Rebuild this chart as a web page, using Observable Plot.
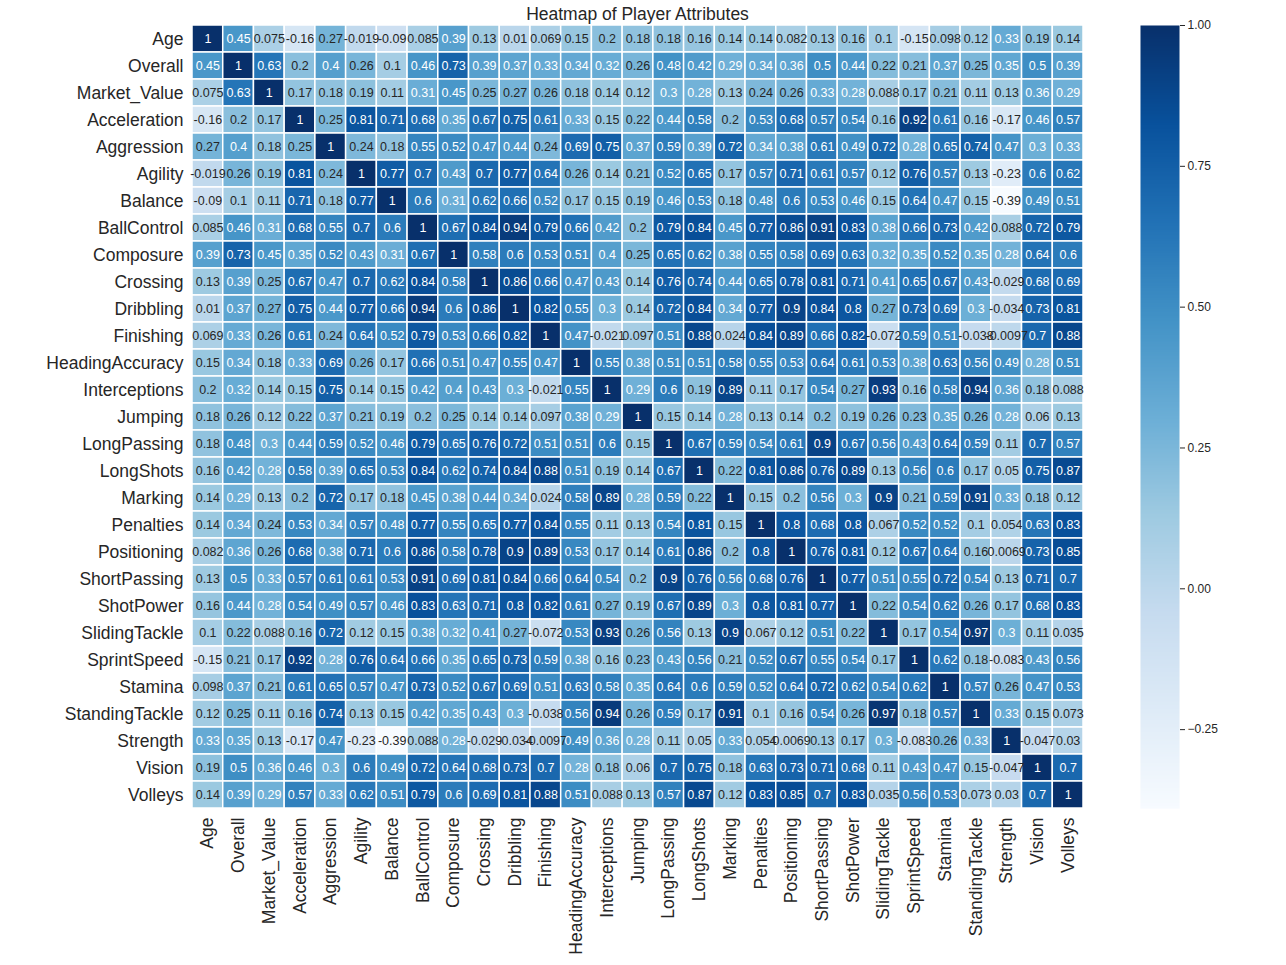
<!DOCTYPE html>
<html>
<head>
<meta charset="utf-8">
<script src="https://cdn.jsdelivr.net/npm/d3@7"></script>
<script src="https://cdn.jsdelivr.net/npm/@observablehq/plot@0.6"></script>
<style>
  html, body { margin: 0; padding: 0; background: #fff; }
  #wrap { position: relative; width: 1286px; height: 965px; font-family: "Liberation Sans", Arial, sans-serif; color: #262626; }
  #title { position: absolute; left: 0; width: 1275px; top: 4px; text-align: center; font-size: 17.5px; line-height: 20px; }
  #cbar { position: absolute; left: 1140px; top: 0; }
  #main { position: absolute; left: 0; top: 0; }
</style>
</head>
<body>
<div id="wrap">
  <div id="main"></div>
  <div id="cbar"></div>
  <div id="title">Heatmap of Player Attributes</div>
</div>
<script>
const labels = ["Age","Overall","Market_Value","Acceleration","Aggression","Agility","Balance","BallControl","Composure","Crossing","Dribbling","Finishing","HeadingAccuracy","Interceptions","Jumping","LongPassing","LongShots","Marking","Penalties","Positioning","ShortPassing","ShotPower","SlidingTackle","SprintSpeed","Stamina","StandingTackle","Strength","Vision","Volleys"];

const corr = [
  [1,0.45,0.075,-0.16,0.27,-0.019,-0.09,0.085,0.39,0.13,0.01,0.069,0.15,0.2,0.18,0.18,0.16,0.14,0.14,0.082,0.13,0.16,0.1,-0.15,0.098,0.12,0.33,0.19,0.14],
  [0.45,1,0.63,0.2,0.4,0.26,0.1,0.46,0.73,0.39,0.37,0.33,0.34,0.32,0.26,0.48,0.42,0.29,0.34,0.36,0.5,0.44,0.22,0.21,0.37,0.25,0.35,0.5,0.39],
  [0.075,0.63,1,0.17,0.18,0.19,0.11,0.31,0.45,0.25,0.27,0.26,0.18,0.14,0.12,0.3,0.28,0.13,0.24,0.26,0.33,0.28,0.088,0.17,0.21,0.11,0.13,0.36,0.29],
  [-0.16,0.2,0.17,1,0.25,0.81,0.71,0.68,0.35,0.67,0.75,0.61,0.33,0.15,0.22,0.44,0.58,0.2,0.53,0.68,0.57,0.54,0.16,0.92,0.61,0.16,-0.17,0.46,0.57],
  [0.27,0.4,0.18,0.25,1,0.24,0.18,0.55,0.52,0.47,0.44,0.24,0.69,0.75,0.37,0.59,0.39,0.72,0.34,0.38,0.61,0.49,0.72,0.28,0.65,0.74,0.47,0.3,0.33],
  [-0.019,0.26,0.19,0.81,0.24,1,0.77,0.7,0.43,0.7,0.77,0.64,0.26,0.14,0.21,0.52,0.65,0.17,0.57,0.71,0.61,0.57,0.12,0.76,0.57,0.13,-0.23,0.6,0.62],
  [-0.09,0.1,0.11,0.71,0.18,0.77,1,0.6,0.31,0.62,0.66,0.52,0.17,0.15,0.19,0.46,0.53,0.18,0.48,0.6,0.53,0.46,0.15,0.64,0.47,0.15,-0.39,0.49,0.51],
  [0.085,0.46,0.31,0.68,0.55,0.7,0.6,1,0.67,0.84,0.94,0.79,0.66,0.42,0.2,0.79,0.84,0.45,0.77,0.86,0.91,0.83,0.38,0.66,0.73,0.42,0.088,0.72,0.79],
  [0.39,0.73,0.45,0.35,0.52,0.43,0.31,0.67,1,0.58,0.6,0.53,0.51,0.4,0.25,0.65,0.62,0.38,0.55,0.58,0.69,0.63,0.32,0.35,0.52,0.35,0.28,0.64,0.6],
  [0.13,0.39,0.25,0.67,0.47,0.7,0.62,0.84,0.58,1,0.86,0.66,0.47,0.43,0.14,0.76,0.74,0.44,0.65,0.78,0.81,0.71,0.41,0.65,0.67,0.43,-0.029,0.68,0.69],
  [0.01,0.37,0.27,0.75,0.44,0.77,0.66,0.94,0.6,0.86,1,0.82,0.55,0.3,0.14,0.72,0.84,0.34,0.77,0.9,0.84,0.8,0.27,0.73,0.69,0.3,-0.034,0.73,0.81],
  [0.069,0.33,0.26,0.61,0.24,0.64,0.52,0.79,0.53,0.66,0.82,1,0.47,-0.021,0.097,0.51,0.88,0.024,0.84,0.89,0.66,0.82,-0.072,0.59,0.51,-0.038,-0.0097,0.7,0.88],
  [0.15,0.34,0.18,0.33,0.69,0.26,0.17,0.66,0.51,0.47,0.55,0.47,1,0.55,0.38,0.51,0.51,0.58,0.55,0.53,0.64,0.61,0.53,0.38,0.63,0.56,0.49,0.28,0.51],
  [0.2,0.32,0.14,0.15,0.75,0.14,0.15,0.42,0.4,0.43,0.3,-0.021,0.55,1,0.29,0.6,0.19,0.89,0.11,0.17,0.54,0.27,0.93,0.16,0.58,0.94,0.36,0.18,0.088],
  [0.18,0.26,0.12,0.22,0.37,0.21,0.19,0.2,0.25,0.14,0.14,0.097,0.38,0.29,1,0.15,0.14,0.28,0.13,0.14,0.2,0.19,0.26,0.23,0.35,0.26,0.28,0.06,0.13],
  [0.18,0.48,0.3,0.44,0.59,0.52,0.46,0.79,0.65,0.76,0.72,0.51,0.51,0.6,0.15,1,0.67,0.59,0.54,0.61,0.9,0.67,0.56,0.43,0.64,0.59,0.11,0.7,0.57],
  [0.16,0.42,0.28,0.58,0.39,0.65,0.53,0.84,0.62,0.74,0.84,0.88,0.51,0.19,0.14,0.67,1,0.22,0.81,0.86,0.76,0.89,0.13,0.56,0.6,0.17,0.05,0.75,0.87],
  [0.14,0.29,0.13,0.2,0.72,0.17,0.18,0.45,0.38,0.44,0.34,0.024,0.58,0.89,0.28,0.59,0.22,1,0.15,0.2,0.56,0.3,0.9,0.21,0.59,0.91,0.33,0.18,0.12],
  [0.14,0.34,0.24,0.53,0.34,0.57,0.48,0.77,0.55,0.65,0.77,0.84,0.55,0.11,0.13,0.54,0.81,0.15,1,0.8,0.68,0.8,0.067,0.52,0.52,0.1,0.054,0.63,0.83],
  [0.082,0.36,0.26,0.68,0.38,0.71,0.6,0.86,0.58,0.78,0.9,0.89,0.53,0.17,0.14,0.61,0.86,0.2,0.8,1,0.76,0.81,0.12,0.67,0.64,0.16,0.0069,0.73,0.85],
  [0.13,0.5,0.33,0.57,0.61,0.61,0.53,0.91,0.69,0.81,0.84,0.66,0.64,0.54,0.2,0.9,0.76,0.56,0.68,0.76,1,0.77,0.51,0.55,0.72,0.54,0.13,0.71,0.7],
  [0.16,0.44,0.28,0.54,0.49,0.57,0.46,0.83,0.63,0.71,0.8,0.82,0.61,0.27,0.19,0.67,0.89,0.3,0.8,0.81,0.77,1,0.22,0.54,0.62,0.26,0.17,0.68,0.83],
  [0.1,0.22,0.088,0.16,0.72,0.12,0.15,0.38,0.32,0.41,0.27,-0.072,0.53,0.93,0.26,0.56,0.13,0.9,0.067,0.12,0.51,0.22,1,0.17,0.54,0.97,0.3,0.11,0.035],
  [-0.15,0.21,0.17,0.92,0.28,0.76,0.64,0.66,0.35,0.65,0.73,0.59,0.38,0.16,0.23,0.43,0.56,0.21,0.52,0.67,0.55,0.54,0.17,1,0.62,0.18,-0.083,0.43,0.56],
  [0.098,0.37,0.21,0.61,0.65,0.57,0.47,0.73,0.52,0.67,0.69,0.51,0.63,0.58,0.35,0.64,0.6,0.59,0.52,0.64,0.72,0.62,0.54,0.62,1,0.57,0.26,0.47,0.53],
  [0.12,0.25,0.11,0.16,0.74,0.13,0.15,0.42,0.35,0.43,0.3,-0.038,0.56,0.94,0.26,0.59,0.17,0.91,0.1,0.16,0.54,0.26,0.97,0.18,0.57,1,0.33,0.15,0.073],
  [0.33,0.35,0.13,-0.17,0.47,-0.23,-0.39,0.088,0.28,-0.029,-0.034,-0.0097,0.49,0.36,0.28,0.11,0.05,0.33,0.054,0.0069,0.13,0.17,0.3,-0.083,0.26,0.33,1,-0.047,0.03],
  [0.19,0.5,0.36,0.46,0.3,0.6,0.49,0.72,0.64,0.68,0.73,0.7,0.28,0.18,0.06,0.7,0.75,0.18,0.63,0.73,0.71,0.68,0.11,0.43,0.47,0.15,-0.047,1,0.7],
  [0.14,0.39,0.29,0.57,0.33,0.62,0.51,0.79,0.6,0.69,0.81,0.88,0.51,0.088,0.13,0.57,0.87,0.12,0.83,0.85,0.7,0.83,0.035,0.56,0.53,0.073,0.03,0.7,1]
];

const colorbarTicks = [-0.25, 0, 0.25, 0.5, 0.75, 1];
const blues9 = ["#f7fbff","#deebf7","#c6dbef","#9ecae1","#6baed6","#4292c6","#2171b5","#08519c","#08306b"];

const cells = corr.flatMap((r, i) => r.map((v, j) => ({row: labels[i], col: labels[j], value: v})));
const vmin = d3.min(cells, d => d.value);
const vmax = d3.max(cells, d => d.value);
const stops = blues9.map((_, i) => vmin + i * (vmax - vmin) / (blues9.length - 1));
const colorOpts = {type: "linear", domain: stops, range: blues9, interpolate: "rgb"};
const cfun = d3.scaleLinear().domain(stops).range(blues9).interpolate(d3.interpolateRgb).clamp(true);

function lum(c) {
  const rgb = d3.rgb(c);
  const f = x => { x /= 255; return x <= 0.03928 ? x / 12.92 : Math.pow((x + 0.055) / 1.055, 2.4); };
  return 0.2126 * f(rgb.r) + 0.7152 * f(rgb.g) + 0.0722 * f(rgb.b);
}
const isDark = d => lum(cfun(d.value)) > 0.408;

const font = "\"Liberation Sans\", Arial, sans-serif";

const main = Plot.plot({
  width: 1286,
  height: 965,
  marginLeft: 192,
  marginRight: 203,
  marginTop: 25,
  marginBottom: 157,
  style: {fontFamily: font, color: "#262626", background: "transparent"},
  x: {domain: labels, padding: 0, round: false, label: null},
  y: {domain: labels, padding: 0, round: false, label: null},
  color: colorOpts,
  marks: [
    Plot.cell(cells, {x: "col", y: "row", fill: "value", stroke: "white", strokeWidth: 1.5}),
    Plot.text(cells.filter(isDark), {x: "col", y: "row", text: d => String(d.value), fill: "#262626", fontSize: 12.5}),
    Plot.text(cells.filter(d => !isDark(d)), {x: "col", y: "row", text: d => String(d.value), fill: "white", fontSize: 12.5}),
    Plot.axisX({tickRotate: -90, tickSize: 0, tickPadding: 9, fontSize: 17.5, label: null}),
    Plot.axisY({tickSize: 0, tickPadding: 9, fontSize: 17.5, label: null})
  ]
});
document.getElementById("main").appendChild(main);

const cbar = Plot.plot({
  width: 146,
  height: 965,
  marginLeft: 0,
  marginRight: 107,
  marginTop: 25,
  marginBottom: 157,
  style: {fontFamily: font, color: "#262626", background: "transparent"},
  x: {domain: [0, 1], axis: null},
  y: {domain: [vmin, vmax], label: null},
  color: colorOpts,
  marks: [
    Plot.raster({x1: 0, x2: 1, y1: vmin, y2: vmax, width: 1, height: 600, fill: (x, y) => y}),
    Plot.axisY({anchor: "right", ticks: colorbarTicks, tickFormat: d3.format(".2f"), tickSize: 5, tickPadding: 3, fontSize: 12, label: null})
  ]
});
document.getElementById("cbar").appendChild(cbar);
</script>
</body>
</html>
